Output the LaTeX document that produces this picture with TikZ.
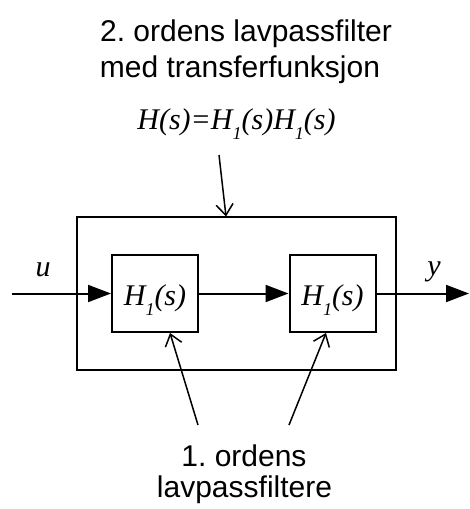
\documentclass[tikz,border=0pt]{standalone}
\usepackage{fontspec}
\setmainfont{Liberation Sans}
\newfontfamily\tnr{Liberation Serif}
\usetikzlibrary{arrows.meta}
\frenchspacing

\newcommand{\Hen}{H\raisebox{-10pt}{\fontsize{18}{18}\selectfont 1}(s)}

\begin{document}
\begin{tikzpicture}[x=1pt,y=-1pt,
    tekst/.style={anchor=base,inner sep=0pt,font=\fontsize{30}{36}\selectfont},
    mattekst/.style={anchor=base,inner sep=0pt,font=\fontsize{30}{36}\selectfont\tnr\itshape},
    blokk/.style={draw,line width=2pt,minimum width=86pt,minimum height=77pt,inner sep=0pt,
        text height=25pt,text depth=2pt,font=\fontsize{30}{36}\selectfont\tnr\itshape},
    signal/.style={line width=2pt,-{Triangle[length=23pt,width=17pt]}},
    peker/.style={line width=1.5pt,-{Straight Barb[length=11pt,width=17pt]}}]
    \useasboundingbox (0,0) rectangle (469,509);

    % tekst over figuren
    \node[tekst] (tittel1) at (246,41) {2. ordens lavpassfilter};
    \node[tekst] (tittel2) at (240,77) {med transferfunksjon};
    \node[mattekst] (formel) at (236.5,129) {H(s)=\Hen\Hen};

    % ytre boks og de to blokkene
    \node[draw,line width=2pt,minimum width=319pt,minimum height=153.5pt,inner sep=0pt,outer sep=0pt]
        (ytre) at (236.5,293.25) {};
    \node[blokk] (blokk1) at (155,293.5) {\Hen};
    \node[blokk] (blokk2) at (332.5,293.5) {\Hen};

    % inn og ut
    \coordinate (inn) at (12,293.5);
    \coordinate (ut) at (469,293.5);
    \node[mattekst] (u) at (43,276.5) {u};
    \node[mattekst] (y) at (434,275.5) {y};

    % tekst under figuren
    \node[tekst] (orden1) at (244,466) {1. ordens};
    \node[tekst] (orden2) at (244.5,497) {lavpassfiltere};

    % startpunkt for pekerne
    \coordinate (p0) at (219,155);
    \coordinate (p1) at (198,425);
    \coordinate (p2) at (289,425);

    % signalpiler
    \draw[signal] (inn) -- (blokk1.west);
    \draw[signal] (blokk1.east) -- (blokk2.west);
    \draw[signal] (blokk2.east) -- (ut);

    % pekere
    \draw[peker] (p0) -- ([xshift=-10.5pt]ytre.north);
    \draw[peker] (p1) -- ([xshift=15pt]blokk1.south);
    \draw[peker] (p2) -- ([xshift=-6.5pt]blokk2.south);

\end{tikzpicture}
\end{document}
